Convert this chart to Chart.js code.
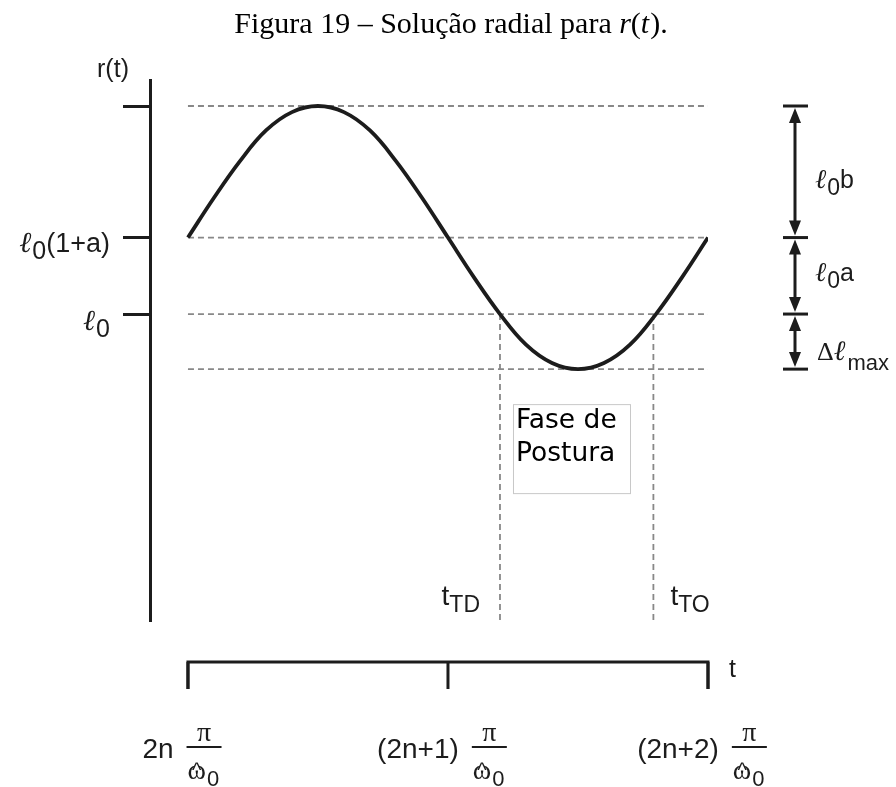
<!DOCTYPE html>
<html>
<head>
<meta charset="utf-8">
<script src="https://cdn.jsdelivr.net/npm/chart.js@4/dist/chart.umd.min.js"></script>
<style>
  html, body { margin: 0; padding: 0; background: #fff; }
  #wrap { width: 896px; height: 787px; position: relative; }
</style>
</head>
<body>
<div id="wrap"><canvas id="c" width="896" height="787"></canvas></div>
<script>
// Time axis in units of pi/omega0, measured from 2n*pi/omega0
const tSamples = [0, 0.1, 0.2, 0.3, 0.4, 0.5, 0.6, 0.7, 0.8, 0.9, 1.0,
                  1.1, 1.2, 1.3, 1.4, 1.5, 1.6, 1.7, 1.8, 1.9, 2.0];
// Radial length r(t) in units of l0
const rSamples = [1.25, 1.38, 1.50, 1.60, 1.66, 1.68, 1.66, 1.60, 1.50, 1.38, 1.25,
                  1.12, 1.00, 0.90, 0.84, 0.82, 0.84, 0.90, 1.00, 1.12, 1.25];

// Reference levels: peak l0(1+a+b), l0(1+a), l0, minimum l0 - dl_max
const levelValues = [1.68, 1.25, 1.00, 0.82];
// Ticks of the r axis and their labels (empty string for the unlabeled peak tick)
const rTickValues = [1.68, 1.25, 1.00];
const rTickLabels = ['', 'ℓ0(1+a)', 'ℓ0'];
// Ticks of the t axis and the integer part of each label
const tTickValues = [0, 1, 2];
const tTickLabels = ['2n', '(2n+1)', '(2n+2)'];
// Touch-down and take-off instants
const eventTimes = [1.20, 1.79];
const eventLabels = ['TD', 'TO'];
// Names of the extents between consecutive levels
const spanLabels = ['ℓ0b', 'ℓ0a', 'Δℓmax'];

const T_MIN = -0.146, T_MAX = 2, R_MIN = 0, R_MAX = 1.765;

const INK = '#1c1c1c';
const GUIDE = '#888888';
const SANS = "'Liberation Sans', Arial, sans-serif";
const SERIF = "'Liberation Serif', 'Times New Roman', serif";

// Draw a run of text pieces: each piece {t, f, dy, k}
function drawRun(ctx, x, y, parts, align) {
  let w = 0;
  parts.forEach(p => { ctx.font = p.f; w += ctx.measureText(p.t).width + (p.k || 0); });
  let cx = align === 'right' ? x - w : align === 'center' ? x - w / 2 : x;
  ctx.textAlign = 'left';
  ctx.textBaseline = 'alphabetic';
  parts.forEach(p => {
    ctx.font = p.f;
    ctx.fillText(p.t, cx, y + (p.dy || 0));
    cx += ctx.measureText(p.t).width + (p.k || 0);
  });
  return w;
}

// "ℓ" followed by a lowered "0" and the rest of the label
function ellParts(label, size) {
  return [
    { t: label.charAt(0), f: `italic ${size + 2}px ${SERIF}`, k: 1 },
    { t: label.charAt(1), f: `${size - 2}px ${SANS}`, dy: 7 },
    { t: label.slice(2), f: `${size}px ${SANS}` }
  ];
}

function arrowHead(ctx, x, y, dir) {
  // dir = -1 points up, +1 points down; (x,y) is the tip
  ctx.beginPath();
  ctx.moveTo(x, y);
  ctx.lineTo(x - 6, y - dir * 15);
  ctx.lineTo(x + 6, y - dir * 15);
  ctx.closePath();
  ctx.fill();
}

const annotations = {
  id: 'annotations',
  afterDraw(chart) {
    const ctx = chart.ctx;
    const xs = chart.scales.x, ys = chart.scales.y;
    const area = chart.chartArea;
    ctx.save();

    // Caption
    ctx.fillStyle = '#000';
    drawRun(ctx, 451, 33, [
      { t: 'Figura 19 – Solução radial para ', f: `30px ${SERIF}` },
      { t: 'r', f: `italic 30px ${SERIF}` },
      { t: '(', f: `30px ${SERIF}` },
      { t: 't', f: `italic 30px ${SERIF}`, k: 1 },
      { t: ').', f: `30px ${SERIF}` }
    ], 'center');

    ctx.fillStyle = INK;
    // r axis title
    drawRun(ctx, 113, 77, [{ t: 'r(t)', f: `25px ${SANS}` }], 'center');

    // r tick labels
    rTickValues.forEach((v, i) => {
      const lab = rTickLabels[i];
      if (!lab) return;
      const y = ys.getPixelForValue(v);
      drawRun(ctx, area.left - 40, y + (lab.length > 2 ? 14 : 16), ellParts(lab, 27), 'right');
    });

    // Right-hand extents with double arrows
    const ax = area.right + 87;
    ctx.strokeStyle = INK;
    ctx.lineWidth = 3;
    levelValues.forEach(v => {
      const y = ys.getPixelForValue(v);
      ctx.beginPath();
      ctx.moveTo(ax - 12, y);
      ctx.lineTo(ax + 13, y);
      ctx.stroke();
    });
    const mids = [];
    for (let i = 0; i < levelValues.length - 1; i++) {
      const ya = ys.getPixelForValue(levelValues[i]);
      const yb = ys.getPixelForValue(levelValues[i + 1]);
      mids.push((ya + yb) / 2);
      ctx.beginPath();
      ctx.moveTo(ax, ya + 10);
      ctx.lineTo(ax, yb - 10);
      ctx.stroke();
      arrowHead(ctx, ax, ya + 2, -1);
      arrowHead(ctx, ax, yb - 2, 1);
    }
    drawRun(ctx, ax + 20, mids[0] + 16, ellParts(spanLabels[0], 25), 'left');
    drawRun(ctx, ax + 20, mids[1] + 5, ellParts(spanLabels[1], 25), 'left');
    drawRun(ctx, ax + 22, mids[2] + 18, [
      { t: spanLabels[2].charAt(0), f: `26px ${SERIF}` },
      { t: spanLabels[2].charAt(1), f: `italic 28px ${SERIF}`, k: 2 },
      { t: spanLabels[2].slice(2), f: `22px ${SANS}`, dy: 10 }
    ], 'left');

    // t axis bracket
    const by = area.bottom + 42;
    const x0 = xs.getPixelForValue(tTickValues[0]);
    const x1 = xs.getPixelForValue(tTickValues[tTickValues.length - 1]);
    ctx.lineWidth = 3;
    ctx.beginPath();
    ctx.moveTo(x0, by + 27);
    ctx.lineTo(x0, by);
    ctx.lineTo(x1, by);
    ctx.lineTo(x1, by + 27);
    ctx.stroke();
    tTickValues.forEach(v => {
      const x = xs.getPixelForValue(v);
      ctx.beginPath();
      ctx.moveTo(x, by);
      ctx.lineTo(x, by + 27);
      ctx.stroke();
    });
    drawRun(ctx, x1 + 21, by + 15, [{ t: 't', f: `25px ${SANS}` }], 'left');

    // t tick labels: integer factor followed by pi / omega0-hat
    tTickValues.forEach((v, i) => {
      const x = xs.getPixelForValue(v);
      ctx.font = `28px ${SANS}`;
      const pw = ctx.measureText(tTickLabels[i]).width;
      const fw = 35, gap = 13;
      const left = x - 6 - (pw + gap + fw) / 2;
      const base = by + 96;
      drawRun(ctx, left, base, [{ t: tTickLabels[i], f: `28px ${SANS}` }], 'left');
      const fx = left + pw + gap;
      ctx.beginPath();
      ctx.lineWidth = 2.2;
      ctx.moveTo(fx, base - 11);
      ctx.lineTo(fx + fw, base - 11);
      ctx.stroke();
      drawRun(ctx, fx + fw / 2, base - 17, [{ t: 'π', f: `28px ${SERIF}` }], 'center');
      ctx.font = `28px ${SERIF}`;
      const ow = ctx.measureText('ω').width;
      ctx.textAlign = 'left';
      ctx.fillText('ω', fx + 1, base + 21);
      ctx.font = `20px ${SANS}`;
      ctx.textAlign = 'center';
      ctx.fillText('^', fx + 1 + ow / 2, base + 19);
      ctx.textAlign = 'left';
      ctx.font = `22px ${SANS}`;
      ctx.fillText('0', fx + ow + 2, base + 28);
    });

    // Event labels beside the dashed verticals
    eventTimes.forEach((v, i) => {
      const x = xs.getPixelForValue(v);
      const parts = [
        { t: 't', f: `28px ${SANS}` },
        { t: eventLabels[i], f: `23px ${SANS}`, dy: 7 }
      ];
      if (i === 0) drawRun(ctx, x - 20, area.bottom - 15, parts, 'right');
      else drawRun(ctx, x + 17, area.bottom - 15, parts, 'left');
    });

    // Stance phase box
    const bx = xs.getPixelForValue(eventTimes[0]) + 13;
    const bw = 117, bh = 89, btop = ys.getPixelForValue(levelValues[3]) + 35;
    ctx.strokeStyle = '#c8c8c8';
    ctx.lineWidth = 1;
    ctx.strokeRect(bx + 0.5, btop + 0.5, bw, bh);
    ctx.fillStyle = '#000';
    ctx.font = `26.5px 'DejaVu Sans', sans-serif`;
    ctx.textAlign = 'left';
    ctx.fillText('Fase de', bx + 3, btop + 24);
    ctx.fillText('Postura', bx + 3, btop + 57);

    ctx.restore();
  }
};

const guideStyle = {
  borderColor: GUIDE, borderWidth: 1.8, borderDash: [6, 4],
  pointRadius: 0, fill: false, tension: 0
};

const datasets = [
  {
    label: 'r(t)',
    data: tSamples.map((t, i) => ({ x: t, y: rSamples[i] })),
    borderColor: INK, borderWidth: 3.8, pointRadius: 0, tension: 0.4,
    borderCapStyle: 'butt', fill: false, order: 0
  }
];
levelValues.forEach(v => {
  datasets.push(Object.assign({ label: 'nivel', order: 1,
    data: [{ x: tTickValues[0], y: v }, { x: tTickValues[tTickValues.length - 1], y: v }] }, guideStyle));
});
eventTimes.forEach(t => {
  datasets.push(Object.assign({ label: 'evento', order: 1,
    data: [{ x: t, y: levelValues[2] }, { x: t, y: R_MIN }] }, guideStyle));
});

new Chart(document.getElementById('c'), {
  type: 'line',
  data: { datasets },
  options: {
    responsive: false,
    animation: false,
    events: [],
    layout: { padding: { left: 123, right: 188, top: 80, bottom: 167 } },
    plugins: { legend: { display: false }, tooltip: { enabled: false }, title: { display: false } },
    scales: {
      x: { type: 'linear', min: T_MIN, max: T_MAX, display: false },
      y: {
        type: 'linear', min: R_MIN, max: R_MAX, position: 'left',
        afterBuildTicks: s => { s.ticks = rTickValues.map(v => ({ value: v })); },
        grid: { drawOnChartArea: false, drawTicks: true, tickLength: 27, lineWidth: 3, color: INK },
        border: { display: true, width: 3, color: INK },
        ticks: { display: false }
      }
    }
  },
  plugins: [annotations]
});
</script>
</body>
</html>
